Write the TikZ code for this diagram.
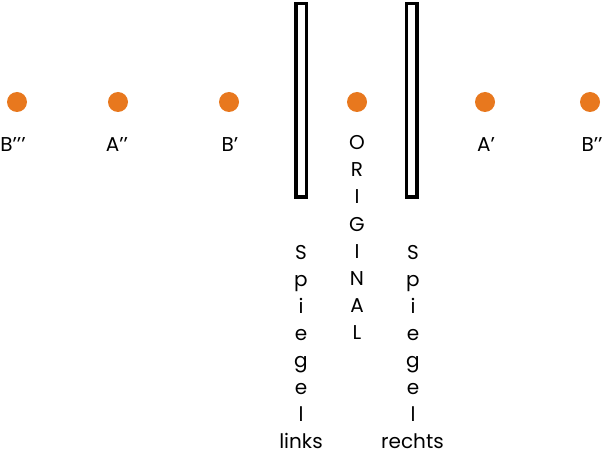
\documentclass[tikz,border=0pt]{standalone}
\usepackage{fontspec}
\setmainfont{Poppins}
\definecolor{dotc}{RGB}{232,120,30}
\begin{document}
\begin{tikzpicture}[x=1pt,y=-1pt,
  every node/.style={inner sep=0pt, font=\fontsize{20}{20}\selectfont},
  pt/.style={circle, fill=dotc, minimum size=20pt, inner sep=0pt},
  lbl/.style={anchor=base},
  mirror/.style={draw=black, line width=3.5pt, minimum width=10.5pt, minimum height=193.5pt, inner sep=0pt}]
\useasboundingbox (0,0) rectangle (604,454);
% mirrors
\node[mirror] (ml) at (301,100.5) {};
\node[mirror] (mr) at (411.5,100.5) {};
% dots
\node[pt] (b3) at (17,102) {};
\node[pt] (a2) at (118,102) {};
\node[pt] (b1) at (229,102) {};
\node[pt] (o)  at (357,102) {};
\node[pt] (a1) at (485,102) {};
\node[pt] (b2) at (590,102) {};
% labels
\node[lbl] (lb3) at (13,152) {B’’’};
\node[lbl] (la2) at (117,152) {A’’};
\node[lbl] (lb1) at (230,152) {B’};
\node[lbl] (la1) at (486,152) {A’};
\node[lbl] (lb2) at (592,152) {B’’};
% ORIGINAL
\foreach \c [count=\i from 0] in {O,R,I,G,I,N,A,L}
  \node[lbl] (orig\i) at (357,150+27*\i) {\c};
% Spiegel links
\foreach \c [count=\i from 0] in {S,p,i,e,g,e,l}
  \node[lbl] (sl\i) at (301,259+27*\i) {\c};
\node[lbl] (links) at (301,448) {links};
% Spiegel rechts
\foreach \c [count=\i from 0] in {S,p,i,e,g,e,l}
  \node[lbl] (sr\i) at (413,259+27*\i) {\c};
\node[lbl] (rechts) at (412.5,448) {rechts};
\end{tikzpicture}
\end{document}
